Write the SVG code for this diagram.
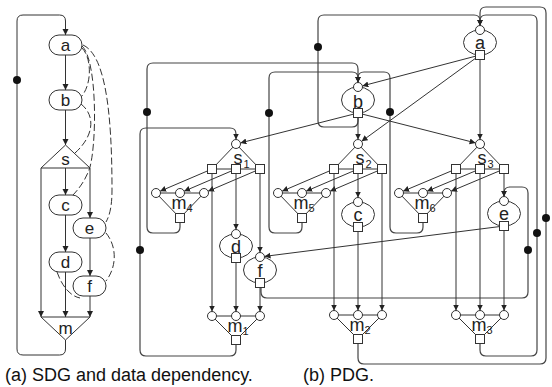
<svg xmlns="http://www.w3.org/2000/svg" width="552" height="387" viewBox="0 0 552 387">
<defs>
<marker id="ar" markerUnits="userSpaceOnUse" markerWidth="7" markerHeight="7" refX="6" refY="3" orient="auto"><path d="M0,0 L6,3 L0,6 z" fill="#222"/></marker>
<style>
.e{fill:none;stroke:#333;stroke-width:1;marker-end:url(#ar)}
.p{fill:none;stroke:#333;stroke-width:1}
.lp{fill:none;stroke:#444;stroke-width:1.2;marker-end:url(#ar)}
.ds{fill:none;stroke:#333;stroke-width:1;stroke-dasharray:7,3}
.dot{fill:#111}
.nd{fill:#fff;stroke:#333;stroke-width:1}
.t{font-family:"Liberation Sans",Arial,sans-serif;font-size:17px;fill:#222;text-anchor:middle}
.tp{font-family:"Liberation Sans",Arial,sans-serif;font-size:18px;fill:#222;text-anchor:middle}
.sub{font-family:"Liberation Sans",Arial,sans-serif;font-size:11px;fill:#222}
.cap{font-family:"Liberation Sans",Arial,sans-serif;font-size:18px;fill:#111}
</style>
</defs>

<!-- ===== (a) SDG ===== -->
<g id="sdg-connectors">
<path class="e" d="M65.5,340 L65.5,349 Q65.5,355 59.5,355 L23,355 Q17,355 17,349 L17,21 Q17,15 23,15 L59.5,15 Q65.5,15 65.5,21 L65.5,35"/>
<circle class="dot" cx="17" cy="80" r="4"/>
<path class="e" d="M65.5,55 L65.5,90"/>
<path class="e" d="M65.5,110 L65.5,145"/>
<path class="e" d="M65.5,168 L65.5,195"/>
<path class="e" d="M90,168 L90,218"/>
<path class="e" d="M41,168 L41,317"/>
<path class="e" d="M65.5,215 L65.5,252"/>
<path class="e" d="M65.5,272 L65.5,317"/>
<path class="e" d="M90,238 L90,276"/>
<path class="e" d="M90,296 L90,317"/>
<path class="ds" d="M82,48 C92,58 92,85 81,97"/>
<path class="ds" d="M81,104 C95,115 95,135 75,153"/>
<path class="ds" d="M82,46 C97,60 97,140 90,167 C86,180 78,190 72,196"/>
<path class="ds" d="M83,45 C105,55 112,110 112,190 C112,205 110,215 106,222"/>
<path class="ds" d="M106,233 C116,245 118,265 106,281"/>
<path class="ds" d="M57,272 C62,286 70,296 80,298"/>
</g>
<g id="sdg-a"><rect class="nd" x="49" y="35" width="33" height="20" rx="10"/><text class="t" x="65.5" y="51">a</text></g>
<g id="sdg-b"><rect class="nd" x="49" y="90" width="33" height="20" rx="10"/><text class="t" x="65.5" y="106">b</text></g>
<g id="sdg-s"><path class="nd" d="M65.5,145 L41,168 L90,168 Z"/><text class="t" x="65.5" y="165">s</text></g>
<g id="sdg-c"><rect class="nd" x="49" y="195" width="33" height="20" rx="10"/><text class="t" x="65.5" y="211">c</text></g>
<g id="sdg-e"><rect class="nd" x="73" y="218" width="33" height="20" rx="10"/><text class="t" x="89.5" y="234">e</text></g>
<g id="sdg-d"><rect class="nd" x="49" y="252" width="33" height="20" rx="10"/><text class="t" x="65.5" y="268">d</text></g>
<g id="sdg-f"><rect class="nd" x="73" y="276" width="33" height="20" rx="10"/><text class="t" x="89.5" y="292">f</text></g>
<g id="sdg-m"><path class="nd" d="M41,317 L90,317 L65.5,340 Z"/><text class="t" x="65.5" y="334">m</text></g>

<!-- ===== (b) PDG ===== -->
<g id="pdg-connectors">
<path class="lp" d="M236,340 L236,350 Q236,356 230,356 L146,356 Q140,356 140,350 L140,134 Q140,128 146,128 L230,128 Q236,128 236,134 L236,139.5"/>
<path class="lp" d="M180,218 L180,227 Q180,233 174,233 L153,233 Q147,233 147,227 L147,69 Q147,63 153,63 L352,63 Q358,63 358,69 L358,82.5"/>
<path class="lp" d="M302,218 L302,227 Q302,233 296,233 L275,233 Q269,233 269,227 L269,78 Q269,72 275,72 L352,72 Q358,72 358,78 L358,82.5"/>
<path class="lp" d="M423,218 L423,227 Q423,233 417,233 L396,233 Q390,233 390,227 L390,78 Q390,72 384,72 L364,72 Q358,72 358,78 L358,82.5"/>
<path class="lp" d="M358,113 L358,121 Q358,127 352,127 L324,127 Q318,127 318,121 L318,21 Q318,15 324,15 L474,15 Q480,15 480,21 L480,25.5"/>
<path class="lp" d="M358,339 L358,358 Q358,364 364,364 L540,364 Q546,364 546,358 L546,13 Q546,7 540,7 L486,7 Q480,7 480,13 L480,25.5"/>
<path class="lp" d="M480,339 L480,350 Q480,356 486,356 L531,356 Q537,356 537,350 L537,21 Q537,15 531,15 L486,15 Q480,15 480,21 L480,25.5"/>
<path class="lp" d="M261,283 L261,292 Q261,298 267,298 L522,298 Q528,298 528,292 L528,193 Q528,187 522,187 L510,187 Q504,187 504,193 L504,196.5"/>
<circle class="dot" cx="140" cy="250" r="4"/>
<circle class="dot" cx="147" cy="112" r="4"/>
<circle class="dot" cx="269" cy="113" r="4"/>
<circle class="dot" cx="390" cy="112" r="4"/>
<circle class="dot" cx="318" cy="47" r="4"/>
<circle class="dot" cx="546" cy="218" r="4"/>
<circle class="dot" cx="537" cy="233" r="4"/>
<circle class="dot" cx="528" cy="250" r="4"/>
<path class="e" d="M480,55 L362.4,85.9"/>
<path class="e" d="M480,55 L361.6,141.3"/>
<path class="e" d="M480,55 L480,139.5"/>
<path class="e" d="M358,113 L240.4,142.9"/>
<path class="e" d="M358,113 L358,139.5"/>
<path class="e" d="M358,113 L475.6,142.9"/>
<path class="e" d="M212,169 L160.1,191.2"/>
<path class="e" d="M236,169 L184.1,191.2"/>
<path class="e" d="M260,169 L208.1,191.2"/>
<path class="e" d="M334,169 L282.1,191.2"/>
<path class="e" d="M358,169 L306.1,191.2"/>
<path class="e" d="M382,169 L330.1,191.2"/>
<path class="e" d="M456,169 L403.1,191.2"/>
<path class="e" d="M480,169 L427.1,191.2"/>
<path class="e" d="M504,169 L451.1,191.2"/>
<path class="e" d="M236,169 L236,229.5"/>
<path class="e" d="M260,169 L260,252.5"/>
<path class="e" d="M212,169 L212,311.5"/>
<path class="e" d="M236,258 L236,311.5"/>
<path class="e" d="M260,283 L260,311.5"/>
<path class="e" d="M334,169 L334,310.5"/>
<path class="e" d="M358,169 L358,197.5"/>
<path class="e" d="M358,227 L358,310.5"/>
<path class="e" d="M382,169 L382,310.5"/>
<path class="e" d="M456,169 L456,310.5"/>
<path class="e" d="M480,169 L480,310.5"/>
<path class="e" d="M504,169 L504,196.5"/>
<path class="e" d="M504,226 L504,310.5"/>
<path class="e" d="M504,226 L264.5,256.4"/>
</g>

<g id="pdg-a"><ellipse class="p" cx="480" cy="42.5" rx="16.5" ry="12.5"/><circle class="nd" cx="480" cy="30" r="4.5"/><rect class="nd" x="475.5" y="50.5" width="9" height="9"/><text class="tp" x="480" y="49">a</text></g>
<g id="pdg-b"><ellipse class="p" cx="358" cy="100" rx="16.5" ry="13"/><circle class="nd" cx="358" cy="87" r="4.5"/><rect class="nd" x="353.5" y="108.5" width="9" height="9"/><text class="tp" x="358" y="107.5">b</text></g>
<g id="pdg-c"><ellipse class="p" cx="358" cy="214.5" rx="16.5" ry="12.5"/><circle class="nd" cx="358" cy="202" r="4.5"/><rect class="nd" x="353.5" y="222.5" width="9" height="9"/><text class="tp" x="358" y="221">c</text></g>
<g id="pdg-d"><ellipse class="p" cx="236" cy="246" rx="16.5" ry="12"/><circle class="nd" cx="236" cy="234" r="4.5"/><rect class="nd" x="231.5" y="253.5" width="9" height="9"/><text class="tp" x="236" y="253">d</text></g>
<g id="pdg-e"><ellipse class="p" cx="504" cy="213.5" rx="16.5" ry="12.5"/><circle class="nd" cx="504" cy="201" r="4.5"/><rect class="nd" x="499.5" y="221.5" width="9" height="9"/><text class="tp" x="504" y="220">e</text></g>
<g id="pdg-f"><ellipse class="p" cx="260" cy="270" rx="16.5" ry="13"/><circle class="nd" cx="260" cy="257" r="4.5"/><rect class="nd" x="255.5" y="278.5" width="9" height="9"/><text class="tp" x="260" y="277">f</text></g>

<g id="pdg-s1"><path class="p" d="M236,144 L212,169 L260,169 Z"/><circle class="nd" cx="236" cy="144" r="4.5"/><rect class="nd" x="207.5" y="164.5" width="9" height="9"/><rect class="nd" x="231.5" y="164.5" width="9" height="9"/><rect class="nd" x="255.5" y="164.5" width="9" height="9"/><text class="tp" x="238" y="164">s</text><text class="sub" x="243.5" y="168">1</text></g>
<g id="pdg-s2"><path class="p" d="M358,144 L334,169 L382,169 Z"/><circle class="nd" cx="358" cy="144" r="4.5"/><rect class="nd" x="329.5" y="164.5" width="9" height="9"/><rect class="nd" x="353.5" y="164.5" width="9" height="9"/><rect class="nd" x="377.5" y="164.5" width="9" height="9"/><text class="tp" x="360" y="164">s</text><text class="sub" x="365.5" y="168">2</text></g>
<g id="pdg-s3"><path class="p" d="M480,144 L456,169 L504,169 Z"/><circle class="nd" cx="480" cy="144" r="4.5"/><rect class="nd" x="451.5" y="164.5" width="9" height="9"/><rect class="nd" x="475.5" y="164.5" width="9" height="9"/><rect class="nd" x="499.5" y="164.5" width="9" height="9"/><text class="tp" x="482" y="164">s</text><text class="sub" x="487.5" y="168">3</text></g>

<g id="pdg-m4"><path class="p" d="M156,193 L204,193 L180,218 Z"/><circle class="nd" cx="156" cy="193" r="4.5"/><circle class="nd" cx="180" cy="193" r="4.5"/><circle class="nd" cx="204" cy="193" r="4.5"/><rect class="nd" x="175.5" y="213.5" width="9" height="9"/><text class="tp" x="179" y="209">m</text><text class="sub" x="186.5" y="212">4</text></g>
<g id="pdg-m5"><path class="p" d="M278,193 L326,193 L302,218 Z"/><circle class="nd" cx="278" cy="193" r="4.5"/><circle class="nd" cx="302" cy="193" r="4.5"/><circle class="nd" cx="326" cy="193" r="4.5"/><rect class="nd" x="297.5" y="213.5" width="9" height="9"/><text class="tp" x="301" y="209">m</text><text class="sub" x="308.5" y="212">5</text></g>
<g id="pdg-m6"><path class="p" d="M399,193 L447,193 L423,218 Z"/><circle class="nd" cx="399" cy="193" r="4.5"/><circle class="nd" cx="423" cy="193" r="4.5"/><circle class="nd" cx="447" cy="193" r="4.5"/><rect class="nd" x="418.5" y="213.5" width="9" height="9"/><text class="tp" x="422" y="209">m</text><text class="sub" x="429.5" y="212">6</text></g>
<g id="pdg-m1"><path class="p" d="M212,316 L260,316 L236,340 Z"/><circle class="nd" cx="212" cy="316" r="4.5"/><circle class="nd" cx="236" cy="316" r="4.5"/><circle class="nd" cx="260" cy="316" r="4.5"/><rect class="nd" x="231.5" y="335.5" width="9" height="9"/><text class="tp" x="235" y="332">m</text><text class="sub" x="242.5" y="335">1</text></g>
<g id="pdg-m2"><path class="p" d="M334,315 L382,315 L358,339 Z"/><circle class="nd" cx="334" cy="315" r="4.5"/><circle class="nd" cx="358" cy="315" r="4.5"/><circle class="nd" cx="382" cy="315" r="4.5"/><rect class="nd" x="353.5" y="334.5" width="9" height="9"/><text class="tp" x="357" y="331">m</text><text class="sub" x="364.5" y="334">2</text></g>
<g id="pdg-m3"><path class="p" d="M456,315 L504,315 L480,339 Z"/><circle class="nd" cx="456" cy="315" r="4.5"/><circle class="nd" cx="480" cy="315" r="4.5"/><circle class="nd" cx="504" cy="315" r="4.5"/><rect class="nd" x="475.5" y="334.5" width="9" height="9"/><text class="tp" x="479" y="331">m</text><text class="sub" x="486.5" y="334">3</text></g>

<text class="cap" x="5" y="381">(a) SDG and data dependency.</text>
<text class="cap" x="303" y="381">(b) PDG.</text>
</svg>
